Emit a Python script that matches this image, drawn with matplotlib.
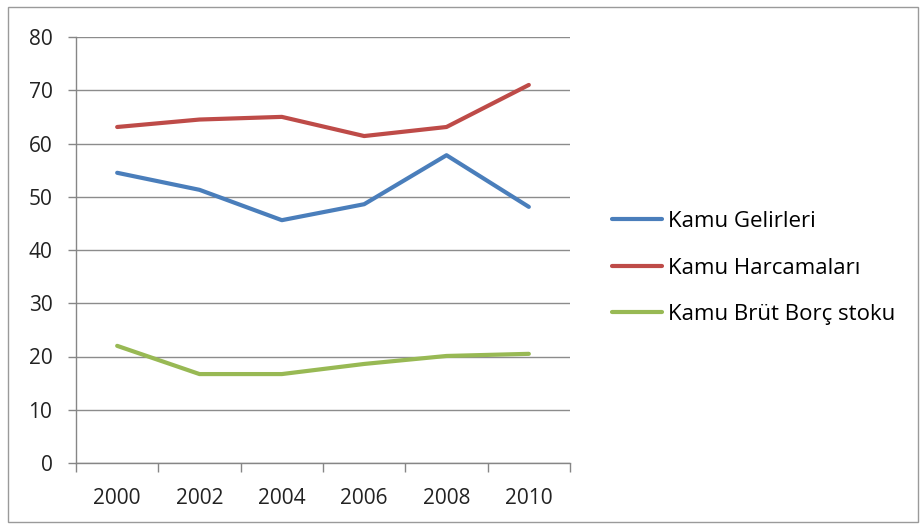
import numpy as np
import matplotlib.pyplot as plt
from matplotlib.patches import Rectangle

years = ['2000', '2002', '2004', '2006', '2008', '2010']
gelir = [54.5, 51.3, 45.6, 48.6, 57.8, 48.1]
harcama = [63.1, 64.5, 65.0, 61.4, 63.1, 71.0]
borc = [22.0, 16.7, 16.7, 18.6, 20.1, 20.5]

plt.rcParams['font.family'] = ['Open Sans', 'DejaVu Sans']
fs = 15

fig = plt.figure(figsize=(9.22, 5.26), dpi=100)
ax = fig.add_axes([76/922, 63/526, 494/922, 426/526])

x = np.arange(len(years))
ax.plot(x, gelir, color='#4A7EBB', lw=3, solid_capstyle='round', label='Kamu Gelirleri')
ax.plot(x, harcama, color='#BE4B48', lw=3, solid_capstyle='round', label='Kamu Harcamaları')
ax.plot(x, borc, color='#98B954', lw=3, solid_capstyle='round', label='Kamu Brüt Borç stoku')

ax.set_xlim(-0.5, len(years) - 0.5)
ax.set_ylim(0, 80)
ax.set_yticks(np.arange(0, 81, 10))
ax.set_xticks(x)
ax.set_xticklabels(years)
ax.set_xticks(np.arange(-0.5, len(years)), minor=True)
ax.tick_params(axis='x', which='major', length=0, pad=18, labelsize=fs, colors='#222222')
ax.tick_params(axis='x', which='minor', length=6.5, width=1, color='#868686')
ax.tick_params(axis='y', length=6, width=1, color='#868686', pad=11, labelsize=fs, labelcolor='#222222')

ax.grid(axis='y', color='#8c8c8c', lw=1)
ax.set_axisbelow(True)
for s in ['top', 'right']:
    ax.spines[s].set_visible(False)
for s in ['left', 'bottom']:
    ax.spines[s].set_color('#868686')
    ax.spines[s].set_linewidth(1)

fig.legend(loc='center left', bbox_to_anchor=(612/922, 1 - 268/526), frameon=False,
           fontsize=16, handlelength=2.25, handletextpad=0.25, labelspacing=1.15,
           borderpad=0, borderaxespad=0)

fig.patches.append(Rectangle((8/922, 4/526), 910/922, 515/526, transform=fig.transFigure,
                             fill=False, edgecolor='#9a9a9a', lw=1))

plt.savefig('out.png', dpi=100)
